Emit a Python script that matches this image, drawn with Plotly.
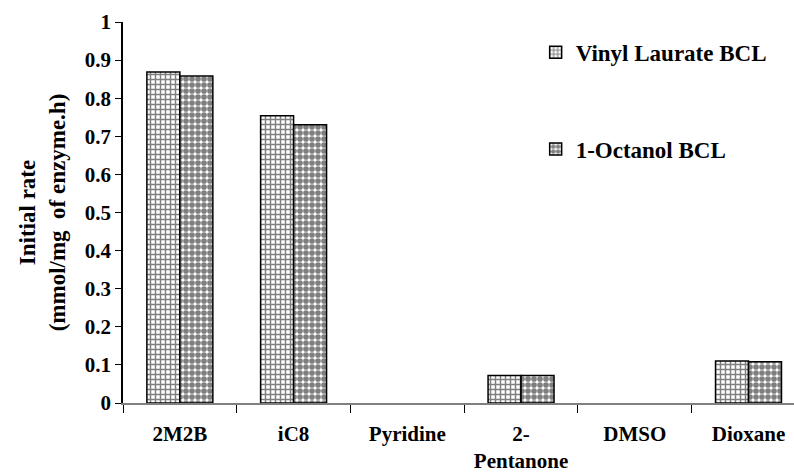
import plotly.graph_objects as go

categories = ["2M2B", "iC8", "Pyridine", "2-<br>Pentanone", "DMSO", "Dioxane"]
vinyl_laurate = [0.869, 0.754, 0, 0.072, 0, 0.110]
octanol = [0.858, 0.730, 0, 0.072, 0, 0.108]
y_ticks = [0, 0.1, 0.2, 0.3, 0.4, 0.5, 0.6, 0.7, 0.8, 0.9, 1]
y_tick_text = ["0", "0.1", "0.2", "0.3", "0.4", "0.5", "0.6", "0.7", "0.8", "0.9", "1"]

FONT = "Liberation Serif"


def outline_widths(values):
    return [1.5 if v > 0 else 0 for v in values]


fig = go.Figure()
fig.add_trace(go.Bar(
    x=categories, y=vinyl_laurate, name="<b>Vinyl Laurate BCL</b>",
    legendgroup="a",
    marker=dict(color="white", line=dict(color="black", width=outline_widths(vinyl_laurate)),
                pattern=dict(shape="+", fgcolor="black", bgcolor="white", size=5, solidity=0.5)),
))
fig.add_trace(go.Bar(
    x=categories, y=octanol, name="<b>1-Octanol BCL</b>",
    legendgroup="b",
    marker=dict(color="white", line=dict(color="black", width=outline_widths(octanol)),
                pattern=dict(shape=".", fgcolor="black", bgcolor="white", size=6, solidity=0.7)),
))

fig.update_layout(
    width=794, height=472,
    margin=dict(l=123, r=0, t=22, b=69),
    paper_bgcolor="white", plot_bgcolor="white",
    barmode="group", bargap=0.42, bargroupgap=0,
    font=dict(family=FONT, size=20, color="black"),
    legend=dict(x=0.615, y=0.977, xanchor="left", yanchor="top",
                tracegroupgap=64, bgcolor="rgba(0,0,0,0)", itemwidth=30,
                font=dict(family=FONT, size=23, color="black")),
    showlegend=True,
)
fig.update_xaxes(
    type="category", range=[-0.5, 5.4], automargin=False,
    showline=True, linecolor="#808080", linewidth=1.5,
    ticks="outside", tickson="boundaries", ticklen=8, tickcolor="black",
    tickfont=dict(family=FONT, size=21, color="black", weight="bold"),
    ticklabelstandoff=11,
    showgrid=False,
)
fig.update_yaxes(
    range=[0, 1], tickvals=y_ticks, ticktext=y_tick_text, automargin=False,
    showline=True, linecolor="black", linewidth=1.5,
    ticks="outside", ticklen=6, tickcolor="black",
    tickfont=dict(family=FONT, size=21, color="black", weight="bold"),
    showgrid=False, zeroline=False,
    title=dict(text="<b>Initial rate<br>(mmol/mg  of enzyme.h)</b>",
               font=dict(family=FONT, size=23, color="black"), standoff=13),
)

fig.write_html("out.html")
